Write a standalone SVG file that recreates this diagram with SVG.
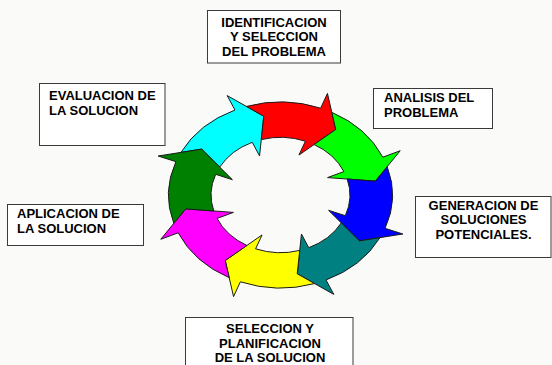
<svg xmlns="http://www.w3.org/2000/svg" xmlns:xlink="http://www.w3.org/1999/xlink" width="552" height="365" viewBox="0 0 552 365">
<style>
.box{fill:#ffffff;stroke:#3a3a3a;stroke-width:1}
.t{font-family:"Liberation Sans",Arial,sans-serif;font-weight:bold;font-size:13px;fill:#000}
.c{text-anchor:middle}
.arr{stroke:#1a1a1a;stroke-width:1;vector-effect:non-scaling-stroke;stroke-linejoin:miter}
</style>
<defs>
<path id="arrow" class="arr" d="M -0.6256 -0.7801 A 1 1 0 0 1 0 -1 L 0 -1.17 L 0.2081 -0.8345 L 0 -0.46 L 0 -0.62 A 0.62 0.62 0 0 0 -0.3737 -0.4948 L -0.4429 -0.7372 Z"/>
</defs>
<rect width="552" height="365" fill="#fafbf9"/>
<g id="connectors" transform="translate(280.5,195) scale(112,93)">
<use xlink:href="#arrow" href="#arrow" transform="rotate(-24)" fill="#00ffff"/>
<use xlink:href="#arrow" href="#arrow" transform="rotate(21)" fill="#ff0000"/>
<use xlink:href="#arrow" href="#arrow" transform="rotate(66)" fill="#00ff00"/>
<use xlink:href="#arrow" href="#arrow" transform="rotate(111)" fill="#0000ff"/>
<use xlink:href="#arrow" href="#arrow" transform="rotate(156)" fill="#008080"/>
<use xlink:href="#arrow" href="#arrow" transform="rotate(201)" fill="#ffff00"/>
<use xlink:href="#arrow" href="#arrow" transform="rotate(246)" fill="#ff00ff"/>
<use xlink:href="#arrow" href="#arrow" transform="rotate(291)" fill="#008000"/>
</g>
<g id="identificacion">
<rect class="box" x="207.5" y="10.5" width="133" height="52.5"/>
<text class="t c" x="274" y="26.5">IDENTIFICACION</text>
<text class="t c" x="274" y="41">Y SELECCION</text>
<text class="t c" x="274" y="55.5">DEL PROBLEMA</text>
</g>
<g id="analisis">
<rect class="box" x="373.5" y="88.5" width="119" height="40"/>
<text class="t" x="384" y="101.5">ANALISIS DEL</text>
<text class="t" x="384" y="116.5">PROBLEMA</text>
</g>
<g id="generacion">
<rect class="box" x="415.5" y="196.5" width="135.5" height="61"/>
<text class="t c" x="483.5" y="209.5">GENERACION DE</text>
<text class="t c" x="483.5" y="224">SOLUCIONES</text>
<text class="t c" x="483.5" y="238.5">POTENCIALES.</text>
</g>
<g id="seleccion">
<rect class="box" x="185.5" y="317.5" width="167.5" height="50"/>
<text class="t c" x="270" y="333">SELECCION Y</text>
<text class="t c" x="270" y="347.5">PLANIFICACION</text>
<text class="t c" x="270" y="362">DE LA SOLUCION</text>
</g>
<g id="aplicacion">
<rect class="box" x="7.5" y="204.5" width="136" height="41"/>
<text class="t" x="17" y="218">APLICACION DE</text>
<text class="t" x="17" y="232.5">LA SOLUCION</text>
</g>
<g id="evaluacion">
<rect class="box" x="39.5" y="83.5" width="125.5" height="62"/>
<text class="t" x="49" y="100">EVALUACION DE</text>
<text class="t" x="49" y="115">LA SOLUCION</text>
</g>
</svg>
